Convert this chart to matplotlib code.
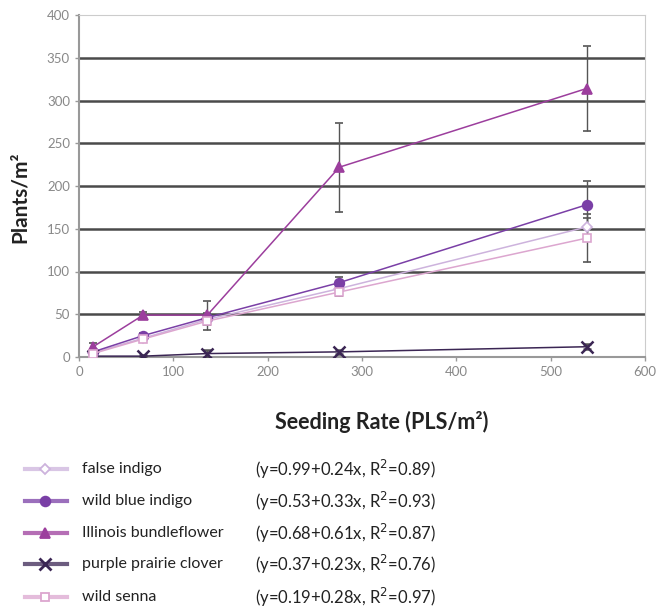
import numpy as np
import matplotlib.pyplot as plt
from matplotlib.lines import Line2D

# seeding rates (PLS/m2)
rates = [15, 68, 136, 276, 538]

false_indigo = [5, 22, 44, 80, 152]
wild_blue_indigo = [6, 25, 46, 87, 178]
illinois_bundle = [12, 49, 49, 222, 314]
purple_prairie = [1, 1, 4, 6, 12]
wild_senna = [4, 21, 42, 76, 139]

# error bar half widths
err_false_indigo = [2, 3, 5, 6, 10]
err_wild_blue = [2, 3, 6, 7, 28]
err_illinois = [4, 4, 17, 52, 50]
err_purple = [1, 1, 4, 2, 3]
err_senna = [2, 3, 5, 5, 28]

names = ["false indigo", "wild blue indigo", "Illinois bundleflower",
         "purple prairie clover", "wild senna"]
equations = ["(y=0.99+0.24x, R$^2$=0.89)", "(y=0.53+0.33x, R$^2$=0.93)",
             "(y=0.68+0.61x, R$^2$=0.87)", "(y=0.37+0.23x, R$^2$=0.76)",
             "(y=0.19+0.28x, R$^2$=0.97)"]

series = [false_indigo, wild_blue_indigo, illinois_bundle, purple_prairie, wild_senna]
errors = [err_false_indigo, err_wild_blue, err_illinois, err_purple, err_senna]
colors = ["#cdb3dd", "#7a3fa6", "#9c3e9d", "#3b2654", "#dca6cf"]
markers = ["D", "o", "^", "x", "s"]
msizes = [5, 7, 7, 8, 5.5]
filled = [False, True, True, True, False]

plt.rcParams['font.family'] = ['Lato', 'DejaVu Sans']

fig = plt.figure(figsize=(6.64, 6.10), dpi=100)
ax = fig.add_axes([79/664, 1 - 357/610, 566/664, 342/610])

for yv in range(50, 400, 50):
    ax.axhline(yv, color="#4a4a4a", lw=1.8, zorder=0)

for ys, es, c, m, ms, f in zip(series, errors, colors, markers, msizes, filled):
    ax.errorbar(rates, ys, yerr=es, color=c, lw=1.1, marker=m, ms=ms,
                mfc=c if f else "white", mec=c, mew=1.8 if m == "x" else 1.2,
                ecolor="#555555", elinewidth=1.0, capsize=3, zorder=3)

ax.set_xlim(0, 600)
ax.set_ylim(0, 400)
ax.set_xticks(range(0, 601, 100))
ax.set_yticks(range(0, 401, 50))
ax.tick_params(colors="#999999", labelcolor="#888888", labelsize=9.5, length=3, width=1)
for s in ax.spines.values():
    s.set_color("#cccccc")
ax.spines["left"].set_color("#999999")
ax.spines["bottom"].set_color("#999999")
ax.spines["left"].set_linewidth(1.5)
ax.spines["bottom"].set_linewidth(1.5)

fig.text(20/664, 1 - 197/610, "Plants/m²", rotation=90, ha="center", va="center",
         fontsize=15, fontweight="bold", color="#222222")
fig.text(382/664, 1 - 422/610, "Seeding Rate (PLS/m²)", ha="center", va="center",
         fontsize=15.5, fontweight="bold", color="#222222")

# legend drawn by hand below the plot
row_y = [469, 501, 533, 564, 597]
for name, eq, c, m, ms, f, py in zip(names, equations, colors, markers, msizes, filled, row_y):
    yf = 1 - py/610
    fig.add_artist(Line2D([25/664, 67/664], [yf, yf], color=c, lw=3, alpha=0.75,
                          transform=fig.transFigure))
    fig.add_artist(Line2D([45/664], [yf], marker=m, ms=ms, color=c,
                          mfc=c if f else "white", mec=c, mew=2 if m == "x" else 1.3,
                          transform=fig.transFigure))
    fig.text(82/664, yf, name, ha="left", va="center", fontsize=11.5, color="#222222")
    fig.text(255/664, yf, eq, ha="left", va="center", fontsize=12, color="#222222")

fig.savefig("out.png", dpi=100)
